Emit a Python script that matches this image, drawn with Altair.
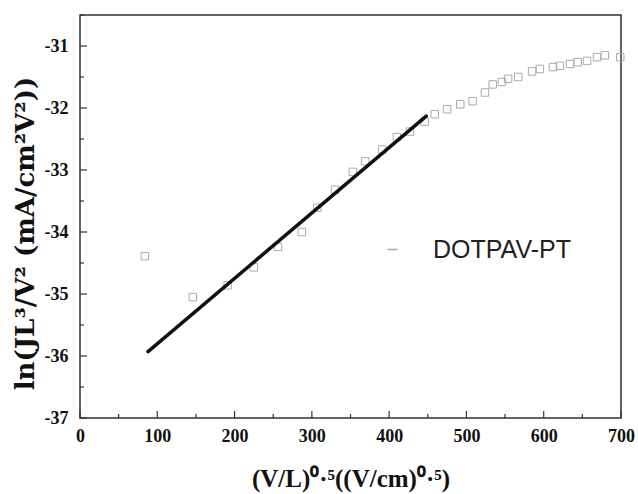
import altair as alt
import pandas as pd

# data points
xs = [84, 146, 191, 225, 256, 287, 307, 330, 353, 369, 391, 410, 427, 446, 459,
      475, 492, 508, 524, 534, 546, 554, 567, 585, 595, 612, 621, 634, 644, 656,
      669, 679, 699]
ys = [-34.39, -35.05, -34.86, -34.57, -34.24, -34.00, -33.61, -33.32, -33.03,
      -32.86, -32.67, -32.47, -32.38, -32.22, -32.10, -32.02, -31.94, -31.89,
      -31.75, -31.62, -31.58, -31.53, -31.50, -31.41, -31.37, -31.34, -31.32,
      -31.29, -31.26, -31.24, -31.18, -31.15, -31.18]
series_name = "DOTPAV-PT"

fit_x = [88, 448]
fit_y = [-35.93, -32.13]

x_major = [0, 100, 200, 300, 400, 500, 600, 700]
x_minor = [50, 150, 250, 350, 450, 550, 650]
y_major = [-37, -36, -35, -34, -33, -32, -31]
y_minor = [-36.5, -35.5, -34.5, -33.5, -32.5, -31.5, -30.5]

W, H = 541, 403

pts = pd.DataFrame({"x": xs, "y": ys, "s": [series_name] * len(xs)})
fit = pd.DataFrame({"x": fit_x, "y": fit_y})

xscale = alt.Scale(domain=[0, 700], nice=False, zero=False)
yscale = alt.Scale(domain=[-37, -30.5], nice=False, zero=False)

FONT = "Liberation Serif"
xaxis = alt.Axis(title="(V/L)⁰·⁵((V/cm)⁰·⁵)", values=x_major, ticks=False,
                 domain=False, grid=False, labelFont=FONT, labelFontWeight="bold",
                 labelFontSize=18, labelColor="#111", labelPadding=9,
                 labelFlush=False,
                 titleFont=FONT, titleFontWeight="bold", titleFontSize=25,
                 titleColor="#111", titlePadding=21)
yaxis = alt.Axis(title="ln(JL³/V² (mA/cm²V²))", values=y_major, ticks=False,
                 domain=False, grid=False, labelFont=FONT, labelFontWeight="bold",
                 labelFontSize=18, labelColor="#111", labelPadding=12,
                 labelFlush=False,
                 labelExpr="'-' + abs(datum.value)",
                 titleFont="DejaVu Serif", titleFontWeight="bold", titleFontSize=26,
                 titleColor="#111", titlePadding=6, titleY=218)

X = lambda f: alt.X(f, type="quantitative", scale=xscale, axis=xaxis)
Y = lambda f: alt.Y(f, type="quantitative", scale=yscale, axis=yaxis)

points = alt.Chart(pts).mark_point(shape="square", filled=False, size=56,
                                   strokeWidth=1, opacity=1).encode(
    x=X("x"), y=Y("y"),
    color=alt.Color("s:N", scale=alt.Scale(range=["#aaaaaa"]),
                    legend=alt.Legend(title=None, orient="none", legendX=300,
                                      legendY=222, symbolType="stroke",
                                      symbolStrokeColor="#aaaaaa",
                                      symbolStrokeWidth=1.5, symbolSize=100,
                                      labelFont="Liberation Sans", labelFontSize=25,
                                      labelColor="#222", labelOffset=28,
                                      padding=0)))

line = alt.Chart(fit).mark_line(color="#111", strokeWidth=3.5,
                                strokeCap="round").encode(x=X("x"), y=Y("y"))

def xt(vals, length):
    df = pd.DataFrame({"v": vals})
    return alt.Chart(df).mark_rule(color="#333", strokeWidth=1.2).encode(
        x=X("v"), y=alt.value(H), y2=alt.value(H - length))

def yt(vals, length):
    df = pd.DataFrame({"v": vals})
    return alt.Chart(df).mark_rule(color="#333", strokeWidth=1.2).encode(
        y=Y("v"), x=alt.value(0), x2=alt.value(length))

chart = alt.layer(
    xt(x_major, 7), xt(x_minor, 4), yt(y_major, 7), yt(y_minor, 4),
    points, line
).properties(
    width=W, height=H,
    autosize=alt.AutoSizeParams(type="none"),
    padding={"left": 80, "top": 15, "right": 17, "bottom": 76},
    background="white",
).configure_view(stroke="#333", strokeWidth=1.5
).configure_axis(labelFont=FONT, labelFontWeight="bold", labelFontSize=18)

chart.save("out.html", embed_options={"renderer": "svg", "actions": False})
